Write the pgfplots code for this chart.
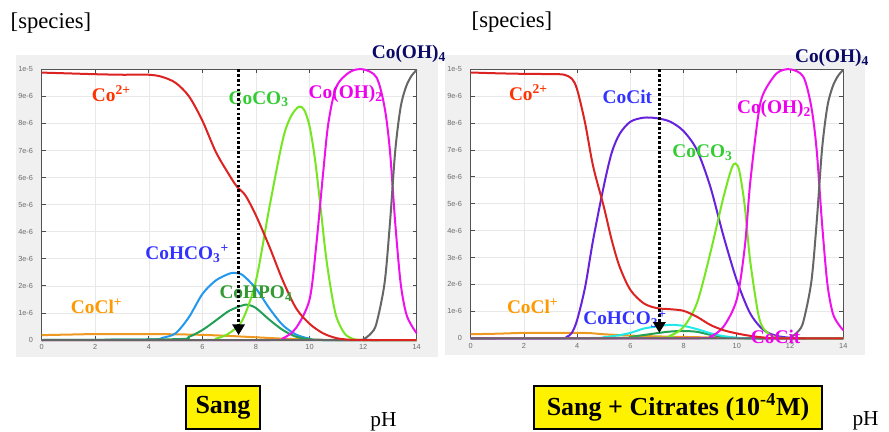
\documentclass[border=0pt]{standalone}
\usepackage{fontspec}
\setmainfont{Liberation Serif}
\newfontfamily\tickfont{Liberation Sans}
\usepackage{pgfplots}
\pgfplotsset{compat=1.18}
\usetikzlibrary{arrows.meta}
\definecolor{cRed}{HTML}{DD2222}
\definecolor{cRedLab}{HTML}{FF3300}
\definecolor{cLime}{HTML}{77E622}
\definecolor{cLimeLab}{HTML}{33CC33}
\definecolor{cMag}{HTML}{EE11EE}
\definecolor{cMagLab}{HTML}{EE00EE}
\definecolor{cGrey}{HTML}{666666}
\definecolor{cNavy}{HTML}{0A0A66}
\definecolor{cSky}{HTML}{2299EE}
\definecolor{cBlueLab}{HTML}{3333FF}
\definecolor{cDkGreen}{HTML}{22A055}
\definecolor{cDkGreenLab}{HTML}{339933}
\definecolor{cOrange}{HTML}{EE9922}
\definecolor{cOrangeLab}{HTML}{FF9900}
\definecolor{cPurple}{HTML}{6622DD}
\definecolor{cCyan}{HTML}{22E8E8}
\definecolor{cBase}{HTML}{1A2A44}
\definecolor{cBg}{HTML}{F0F0F0}
\pgfplotsset{spec/.style={
  scale only axis, xmin=0, xmax=14, ymin=0, ymax=10,
  xtick={0,2,...,14}, ytick={0,1,...,10},
  xticklabels={0,2,4,6,8,10,12,14},
  yticklabels={0,1e-6,2e-6,3e-6,4e-6,5e-6,6e-6,7e-6,8e-6,9e-6,1e-5},
  tick label style={font=\tickfont\fontsize{5.5}{6}\selectfont, text=gray!85!black},
  yticklabel style={xshift=-3pt},
  grid=major, major grid style={gray!18, line width=0.5pt},
  tick align=inside, major tick length=3pt,
  tick style={gray!60!black, line width=0.6pt},
  axis line style={gray!65!black, line width=0.9pt},
  axis background/.style={fill=white},
  clip=false,
  every axis plot/.append style={line width=1.5pt, smooth, no marks},
}}
\tikzset{lab/.style={font=\fontsize{14.5}{16}\selectfont\bfseries, inner sep=0pt},
  arr/.style={black, line width=2pt, dash pattern=on 2pt off 1.6pt, sharp plot,
  -{Triangle[width=9pt,length=8pt]}}}
\begin{document}
\begin{tikzpicture}
\useasboundingbox (0,0) rectangle (666.75pt,-324pt);
\fill[cBg] (12pt,-41.25pt) rectangle (328.5pt,-267.75pt);
\fill[cBg] (333.75pt,-41.25pt) rectangle (648.75pt,-266.25pt);
\node[font=\fontsize{17}{20}\selectfont] at (38.25pt,-17.25pt) {[species]};
\node[font=\fontsize{17}{20}\selectfont] at (384pt,-16.5pt) {[species]};
\node[font=\fontsize{16}{18}\selectfont] at (287.6pt,-316.5pt) {pH};
\node[font=\fontsize{16}{18}\selectfont] at (649.2pt,-315.75pt) {pH};
\node[draw=black, line width=1.5pt, fill=yellow, minimum width=55.5pt, minimum height=32.25pt, inner sep=0pt, font=\fontsize{19.5}{22}\selectfont\bfseries] at (167.25pt,-305.6pt) {Sang};
\node[draw=black, line width=1.5pt, fill=yellow, minimum width=216pt, minimum height=32.25pt, inner sep=0pt, font=\fontsize{19.5}{22}\selectfont\bfseries] at (508.5pt,-305.6pt) {Sang + Citrates (10\textsuperscript{-4}M)};

% ---------------- left panel
\begin{axis}[spec, at={(31.275pt,-255pt)}, anchor=south west, width=281.25pt, height=203pt]
\addplot[cBase, line width=1.2pt] coordinates {(0,0) (14,0)};
\addplot[cOrange] coordinates {(0,0.18)(1,0.2)(2,0.22)(3,0.22)(4,0.22)(5,0.21)(6,0.19)(7,0.15)(8,0.1)(9,0.05)(10,0.02)(11,0)(14,0)};
\addplot[cSky] coordinates {(0,0)(4,0.02)(4.5,0.08)(5,0.25)(5.5,0.85)(6,1.7)(6.5,2.2)(7,2.45)(7.2,2.48)(7.5,2.4)(8,1.9)(8.5,1.17)(9,0.55)(9.5,0.2)(10,0.05)(10.5,0)(14,0)};
\addplot[cDkGreen] coordinates {(0,0)(5,0.03)(5.5,0.12)(6,0.37)(6.5,0.72)(7,1.08)(7.5,1.28)(7.7,1.3)(8,1.18)(8.5,0.75)(9,0.37)(9.5,0.12)(10,0.03)(10.5,0)(14,0)};
\addplot[cLime] coordinates {(0,0)(6,0)(6.5,0.05)(7,0.25)(7.5,0.75)(8,2.2)(8.5,4.9)(9,7.4)(9.3,8.25)(9.6,8.62)(9.8,8.5)(10,7.9)(10.2,6.7)(10.4,5.0)(10.6,3.2)(10.8,1.85)(11,0.86)(11.3,0.25)(11.6,0.05)(12,0)(14,0)};
\addplot[cMag] coordinates {(0,0)(8.5,0)(9,0.06)(9.5,0.45)(10,1.5)(10.25,3.5)(10.5,6.1)(10.7,8.0)(11,9.35)(11.5,9.9)(12,10)(12.5,9.7)(12.8,8.6)(13,7.0)(13.2,4.3)(13.4,2.1)(13.6,1.0)(13.8,0.55)(14,0.25)};
\addplot[cGrey] coordinates {(0,0)(11.8,0)(12,0.02)(12.3,0.25)(12.5,0.62)(12.8,2.1)(13,4.3)(13.2,7.0)(13.4,8.6)(13.6,9.35)(13.8,9.75)(14,9.98)};
\addplot[cRed] coordinates {(0,9.88)(1,9.85)(2,9.82)(3,9.8)(4,9.8)(4.5,9.72)(5,9.5)(5.5,9.0)(6,8.1)(6.5,6.95)(7,6.1)(7.3,5.65)(7.6,5.35)(8,4.6)(8.5,3.45)(9,2.2)(9.5,1.17)(10,0.6)(10.5,0.25)(11,0.07)(11.5,0.01)(12,0)(14,0)};
\node[lab, text=cRedLab] at (axis cs:2.6,9.1) {Co\textsuperscript{2+}};
\node[lab, text=cLimeLab] at (axis cs:8.1,8.9) {CoCO\textsubscript{3}};
\node[lab, text=cMagLab] at (axis cs:11.35,9.1) {Co(OH)\textsubscript{2}};
\node[lab, text=cBlueLab] at (axis cs:5.43,3.2) {CoHCO\textsubscript{3}\textsuperscript{+}};
\node[lab, text=cDkGreenLab] at (axis cs:8.0,1.72) {CoHPO\textsubscript{4}};
\node[lab, text=cOrangeLab] at (axis cs:2.05,1.25) {CoCl\textsuperscript{+}};
\node[lab, text=cNavy] at (axis cs:13.71,10.57) {Co(OH)\textsubscript{4}};
\addplot[arr] coordinates {(7.35,10) (7.35,0.18)};
\end{axis}

% ---------------- right panel
\begin{axis}[spec, at={(353.0pt,-253.7pt)}, anchor=south west, width=279.45pt, height=201.75pt]
\addplot[cBase, line width=1.2pt] coordinates {(0,0) (14,0)};
\addplot[cOrange] coordinates {(0,0.15)(1,0.17)(2,0.2)(3,0.2)(4,0.2)(4.5,0.19)(5,0.15)(6,0.1)(7,0.07)(8,0.05)(9,0.03)(10,0.01)(11,0)(14,0)};
\addplot[cDkGreen] coordinates {(0,0)(5.5,0.01)(6,0.05)(6.5,0.12)(7,0.19)(7.5,0.25)(8,0.27)(8.5,0.24)(9,0.13)(9.5,0.05)(10,0.01)(10.5,0)(14,0)};
\addplot[cCyan] coordinates {(0,0)(4.5,0.01)(5,0.04)(5.5,0.1)(6,0.2)(6.5,0.36)(7,0.44)(7.5,0.5)(8,0.46)(8.5,0.34)(9,0.19)(9.5,0.08)(10,0.02)(10.5,0)(14,0)};
\addplot[cPurple] coordinates {(0,0)(3.3,0)(3.6,0.05)(3.8,0.2)(4,0.68)(4.3,1.9)(4.6,3.65)(5,5.65)(5.3,6.9)(5.6,7.6)(6,8.05)(6.5,8.2)(7,8.18)(7.5,8.05)(8,7.7)(8.5,7.0)(9,5.65)(9.5,3.8)(10,2.15)(10.5,0.93)(11,0.31)(11.5,0.09)(12,0.02)(12.5,0)(14,0)};
\addplot[cLime] coordinates {(0,0)(7,0.02)(7.5,0.1)(8,0.42)(8.5,1.3)(9,3.15)(9.5,5.25)(9.8,6.3)(9.95,6.5)(10.1,6.2)(10.3,4.9)(10.5,2.9)(10.8,0.93)(11,0.37)(11.3,0.1)(11.6,0.02)(12,0)(14,0)};
\addplot[cMag] coordinates {(0,0)(8.5,0)(9,0.06)(9.5,0.43)(10,1.45)(10.3,3.4)(10.5,5.75)(10.8,8.25)(11,9.1)(11.5,9.85)(12,10)(12.5,9.72)(12.8,8.6)(13,7.0)(13.2,4.3)(13.4,2.05)(13.6,0.95)(13.8,0.55)(14,0.3)};
\addplot[cGrey] coordinates {(0,0)(11.8,0)(12,0.02)(12.3,0.25)(12.5,0.62)(12.8,2.1)(13,4.3)(13.2,7.0)(13.4,8.6)(13.6,9.35)(13.8,9.75)(14,9.98)};
\addplot[cRed] coordinates {(0,9.88)(1,9.85)(2,9.83)(3,9.82)(3.5,9.8)(3.8,9.65)(4,9.25)(4.3,8.0)(4.6,6.4)(5,4.9)(5.3,3.65)(5.6,2.65)(6,1.8)(6.5,1.3)(7,1.12)(7.5,1.08)(8,1.02)(8.5,0.8)(9,0.5)(9.5,0.3)(10,0.18)(10.5,0.09)(11,0.03)(11.5,0)(14,0)};
\node[lab, text=cRedLab] at (axis cs:2.17,9.13) {Co\textsuperscript{2+}};
\node[lab, text=cBlueLab] at (axis cs:5.89,8.98) {CoCit};
\node[lab, text=cLimeLab] at (axis cs:8.71,6.91) {CoCO\textsubscript{3}};
\node[lab, text=cMagLab] at (axis cs:11.4,8.53) {Co(OH)\textsubscript{2}};
\node[lab, text=cOrangeLab] at (axis cs:2.33,1.18) {CoCl\textsuperscript{+}};
\node[lab, text=cBlueLab] at (axis cs:5.8,0.71) {CoHCO\textsubscript{3}\textsuperscript{+}};
\node[lab, text=cMagLab] at (axis cs:11.46,0.06) {CoCit};
\node[lab, text=cNavy] at (axis cs:13.58,10.42) {Co(OH)\textsubscript{4}};
\addplot[arr] coordinates {(7.09,10) (7.09,0.2)};
\end{axis}
\end{tikzpicture}
\end{document}
